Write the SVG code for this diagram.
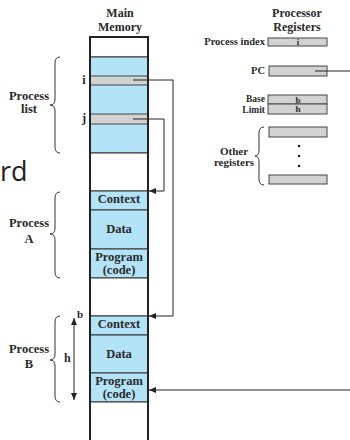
<svg xmlns="http://www.w3.org/2000/svg" width="350" height="440" viewBox="0 0 350 440">
<defs>
<marker id="ah" markerWidth="7" markerHeight="6" refX="7" refY="3" orient="auto" markerUnits="userSpaceOnUse">
<path d="M0,0 L7,3 L0,6 Z" fill="#222"/>
</marker>
<marker id="ahs" markerWidth="7" markerHeight="6" refX="0" refY="3" orient="auto" markerUnits="userSpaceOnUse">
<path d="M7,0 L0,3 L7,6 Z" fill="#222"/>
</marker>
</defs>
<style>
.t{font-family:"Liberation Serif","Times New Roman",serif;font-weight:bold;fill:#2a2a2a}
.m{font-size:12.5px;text-anchor:middle}
.l{font-size:12.5px;text-anchor:middle}
.r{font-size:10.5px;text-anchor:end}
.h{font-size:12px;text-anchor:middle}
.blue{fill:#b3e3f6;stroke:#333;stroke-width:1}
.wht{fill:#ffffff;stroke:#333;stroke-width:1}
.gry{fill:#d2d2d2;stroke:#444;stroke-width:1}
.br{fill:none;stroke:#333;stroke-width:1}
.cn{fill:none;stroke:#222;stroke-width:1}
</style>
<rect width="350" height="440" fill="#ffffff"/>
<text x="0" y="181" font-family="'Open Sans','Noto Sans',sans-serif" font-size="27" fill="#222">rd</text>

<g id="memory-title">
<text class="t h" x="120" y="17">Main</text>
<text class="t h" x="120" y="31">Memory</text>
</g>
<g id="registers-title">
<text class="t h" x="297" y="17">Processor</text>
<text class="t h" x="297" y="31">Registers</text>
</g>

<g id="memory">
<rect class="wht" x="90" y="37" width="58" height="20"/>
<rect class="blue" x="90" y="57" width="58" height="96"/>
<rect class="gry" x="90" y="76" width="58" height="9"/>
<rect class="gry" x="90" y="114" width="58" height="10"/>
<rect class="wht" x="90" y="153" width="58" height="38"/>
<rect class="blue" x="90" y="191" width="58" height="19"/>
<rect class="blue" x="90" y="210" width="58" height="39"/>
<rect class="blue" x="90" y="249" width="58" height="29"/>
<rect class="wht" x="90" y="278" width="58" height="38"/>
<rect class="blue" x="90" y="316" width="58" height="19"/>
<rect class="blue" x="90" y="335" width="58" height="38"/>
<rect class="blue" x="90" y="373" width="58" height="29"/>
<rect class="wht" x="90" y="402" width="58" height="40"/>
<path d="M90,442 V37 H148 V442" fill="none" stroke="#222" stroke-width="2"/>
<text class="t m" x="119" y="203">Context</text>
<text class="t m" x="119" y="233">Data</text>
<text class="t m" x="119" y="261">Program</text>
<text class="t m" x="119" y="274">(code)</text>
<text class="t m" x="119" y="328">Context</text>
<text class="t m" x="119" y="358">Data</text>
<text class="t m" x="119" y="385">Program</text>
<text class="t m" x="119" y="398">(code)</text>
<text class="t m" x="84" y="84">i</text>
<text class="t m" x="84" y="122">j</text>
</g>

<g id="process-list">
<path class="br" d="M60,57 Q55,57 55,63 L55,99 Q55,105 50,105 Q55,105 55,111 L55,147 Q55,153 60,153"/>
<text class="t l" x="29" y="100">Process</text>
<text class="t l" x="29" y="113">list</text>
</g>
<g id="process-a">
<path class="br" d="M60,192 Q55,192 55,198 L55,228 Q55,234 50,234 Q55,234 55,240 L55,272 Q55,278 60,278"/>
<text class="t l" x="29" y="227">Process</text>
<text class="t l" x="29" y="243">A</text>
</g>
<g id="process-b">
<path class="br" d="M60,316 Q55,316 55,322 L55,354 Q55,360 50,360 Q55,360 55,366 L55,396 Q55,402 60,402"/>
<text class="t l" x="29" y="353">Process</text>
<text class="t l" x="29" y="368">B</text>
<line class="cn" x1="74" y1="318" x2="74" y2="400" marker-start="url(#ahs)" marker-end="url(#ah)"/>
<text class="t" x="77" y="318" font-size="11">b</text>
<text class="t" x="64" y="362" font-size="12">h</text>
</g>

<g id="reg-index">
<text class="t r" x="265" y="45">Process index</text>
<rect class="gry" x="268" y="38" width="59" height="8"/>
<text class="t" x="298" y="45" font-size="9" text-anchor="middle">i</text>
</g>
<g id="reg-pc">
<text class="t r" x="265" y="74">PC</text>
<rect class="gry" x="269" y="66" width="58" height="10"/>
</g>
<g id="reg-base-limit">
<text class="t" x="265" y="102" font-size="9.5" text-anchor="end">Base</text>
<text class="t" x="265" y="112.5" font-size="9.5" text-anchor="end">Limit</text>
<rect class="gry" x="268" y="95" width="59" height="9"/>
<rect class="gry" x="268" y="104" width="59" height="10"/>
<text class="t" x="298" y="103" font-size="9" text-anchor="middle">b</text>
<text class="t" x="298" y="112" font-size="9" text-anchor="middle">h</text>
</g>
<g id="reg-other">
<rect class="gry" x="269" y="127" width="58" height="10"/>
<circle cx="299" cy="146" r="1.3" fill="#222"/>
<circle cx="299" cy="156" r="1.3" fill="#222"/>
<circle cx="299" cy="166" r="1.3" fill="#222"/>
<rect class="gry" x="269" y="175" width="58" height="9"/>
<path class="br" d="M264,127 Q259,127 259,133 L259,150 Q259,156 255,156 Q259,156 259,162 L259,179 Q259,185 264,185"/>
<text class="t" x="234" y="155" font-size="11" text-anchor="middle">Other</text>
<text class="t" x="234" y="166" font-size="11" text-anchor="middle">registers</text>
</g>

<g id="connectors">
<path class="cn" d="M133,80 H173 V316 H149" marker-end="url(#ah)"/>
<path class="cn" d="M133,119 H164 V191 H149" marker-end="url(#ah)"/>
<path class="cn" d="M315,71 H350"/>
<path class="cn" d="M350,390 H149" marker-end="url(#ah)"/>
</g>
</svg>
